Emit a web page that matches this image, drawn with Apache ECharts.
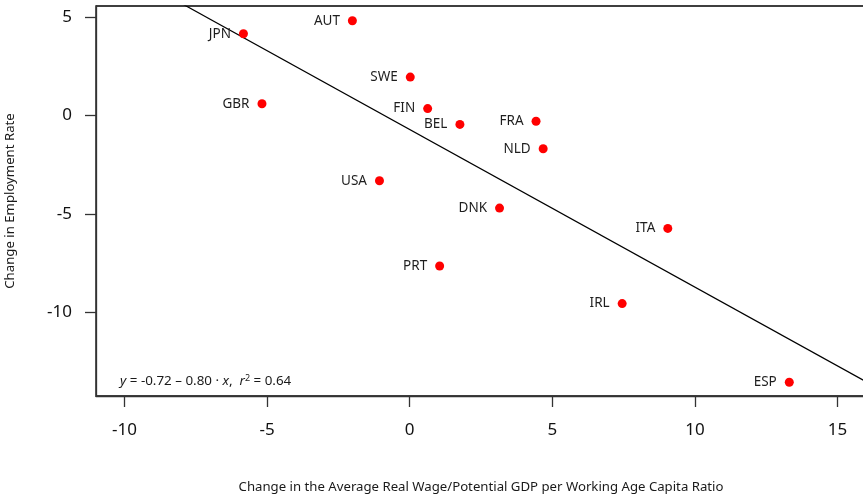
<!DOCTYPE html>
<html>
<head>
<meta charset="utf-8">
<script src="https://cdn.jsdelivr.net/npm/echarts@6/dist/echarts.min.js"></script>
<style>
html,body{margin:0;padding:0;background:#fff;}
#chart{width:863px;height:496px;}
</style>
</head>
<body>
<div id="chart"></div>
<script>
var countries = ["JPN","GBR","AUT","SWE","FIN","BEL","FRA","NLD","ITA","USA","DNK","PRT","IRL","ESP"];
var wageChange = [-5.83,-5.18,-2.01,0.02,0.63,1.76,4.43,4.68,9.05,-1.06,3.15,1.05,7.45,13.31];
var employmentChange = [4.14,0.59,4.80,1.94,0.34,-0.46,-0.30,-1.70,-5.74,-3.32,-4.71,-7.65,-9.56,-13.55];
var fitIntercept = -0.72;
var fitSlope = -0.80;
var xTicks = [-10,-5,0,5,10,15];
var yTicks = [-10,-5,0,5];
var xRange = [-11, 16];
var yRange = [-14.25, 5.55];

var FONT = "Noto Sans";
var pts = countries.map(function(c,i){ return {name:c, value:[wageChange[i], employmentChange[i]]}; });
var fitLine = [xRange[0], xRange[1]].map(function(x){ return [x, fitIntercept + fitSlope*x]; });

var chart = echarts.init(document.getElementById('chart'), null, {renderer:'canvas'});
chart.setOption({
  animation:false,
  grid:{left:96, top:6, width:770, height:390, containLabel:false, outerBoundsMode:'none',
    show:true, borderColor:'#000', borderWidth:1.3, backgroundColor:'transparent'},
  xAxis:{
    type:'value', min:xRange[0], max:xRange[1],
    name:'Change in the Average Real Wage/Potential GDP per Working Age Capita Ratio',
    nameLocation:'middle', nameGap:85,
    nameTextStyle:{fontFamily:FONT, fontSize:13.2, color:'#1a1a1a'},
    axisLine:{show:true, onZero:false, lineStyle:{color:'#333', width:1.3}},
    axisTick:{show:true, length:11, customValues:xTicks, lineStyle:{color:'#333', width:1.3}},
    axisLabel:{customValues:xTicks, margin:26, fontFamily:FONT, fontSize:17, color:'#111'},
    splitLine:{show:false}
  },
  yAxis:{
    type:'value', min:yRange[0], max:yRange[1],
    name:'Change in Employment Rate',
    nameLocation:'middle', nameGap:79,
    nameTextStyle:{fontFamily:FONT, fontSize:13.2, color:'#1a1a1a'},
    axisLine:{show:true, onZero:false, lineStyle:{color:'#333', width:1.3}},
    axisTick:{show:true, length:11, customValues:yTicks, lineStyle:{color:'#333', width:1.3}},
    axisLabel:{customValues:yTicks, margin:24, fontFamily:FONT, fontSize:17, color:'#111'},
    splitLine:{show:false}
  },
  series:[
    {
      type:'line', data:fitLine, symbol:'none', clip:true,
      lineStyle:{color:'#000', width:1.2}, silent:true, z:1
    },
    {
      type:'scatter', data:pts, symbol:'circle', symbolSize:9,
      itemStyle:{color:'#ff0000', opacity:1}, z:2,
      label:{show:true, position:'left', distance:8, formatter:function(p){return p.name;},
        fontFamily:FONT, fontSize:13.5, color:'#1e1e1e'}
    }
  ],
  graphic:[{
    type:'text', left:120, top:374,
    style:{
      text:'{i|y} = -0.72 \u2013 0.80 \u00b7 {i|x},  {i|r}{sup|2} = 0.64',
      fontFamily:FONT, fontSize:13.4, fill:'#1a1a1a',
      rich:{
        i:{fontStyle:'italic', fontFamily:FONT, fontSize:13.4, fill:'#1a1a1a'},
        sup:{fontSize:9, fontFamily:FONT, fill:'#1a1a1a', verticalAlign:'top', padding:[0,0,6,0]}
      }
    }
  }]
});
</script>
</body>
</html>
